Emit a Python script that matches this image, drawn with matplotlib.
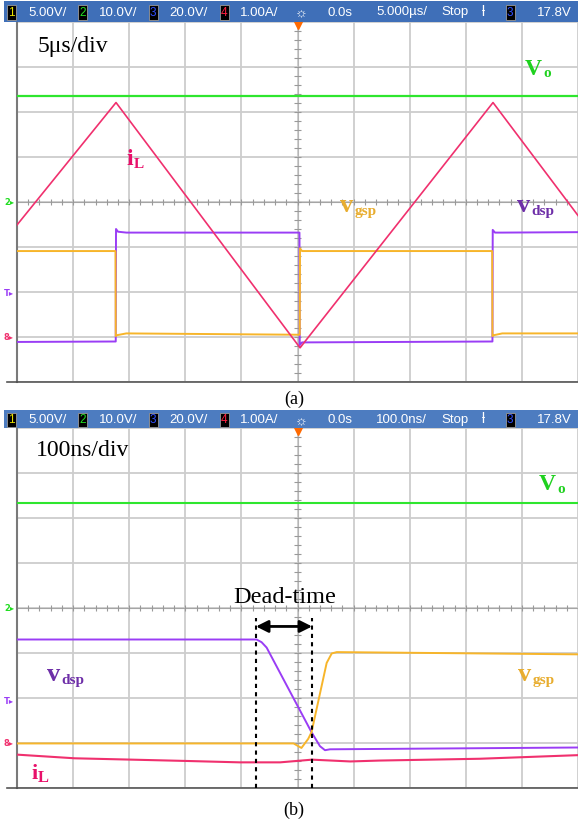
import matplotlib
matplotlib.use('Agg')
import matplotlib.pyplot as plt
from matplotlib.patches import Rectangle
import numpy as np

# ---- scope traces, in screen divisions (x: 0..10 div, y: -4..4 div) ----
# (a) 5us/div
vo_a_t = [0, 10]
vo_a_v = [2.35, 2.35]

il_a_t = [0, 1.765, 5.045, 8.485, 10]
il_a_v = [-0.51, 2.21, -3.24, 2.21, -0.30]

vdsp_a_t = [0, 1.76, 1.765, 1.80, 1.95, 5.035, 5.04, 5.08, 8.475, 8.48, 8.52, 8.65, 10]
vdsp_a_v = [-3.11, -3.10, -0.60, -0.66, -0.68, -0.68, -3.18, -3.12, -3.10, -0.62, -0.68, -0.68, -0.67]

vgsp_a_t = [0, 1.755, 1.76, 1.78, 1.95, 5.04, 5.045, 5.08, 8.47, 8.475, 8.50, 8.65, 10]
vgsp_a_v = [-1.09, -1.09, -2.98, -2.96, -2.92, -2.95, -1.03, -1.09, -1.09, -2.98, -2.96, -2.92, -2.92]

# (b) 100ns/div
vo_b_t = [0, 10]
vo_b_v = [2.34, 2.34]

il_b_t = [0.02, 1.03, 2.05, 3.05, 3.97, 4.69, 5.26, 5.94, 6.47, 8.25, 10]
il_b_v = [-3.26, -3.34, -3.37, -3.40, -3.43, -3.43, -3.37, -3.41, -3.39, -3.35, -3.27]

vdsp_b_t = [0, 4.27, 4.36, 4.45, 5.25, 5.40, 5.49, 5.58, 10]
vdsp_b_v = [-0.70, -0.70, -0.76, -0.88, -2.76, -3.07, -3.16, -3.14, -3.10]

vgsp_b_t = [0, 4.93, 5.07, 5.19, 5.25, 5.52, 5.61, 5.70, 10]
vgsp_b_v = [-3.01, -3.01, -3.11, -2.91, -2.76, -1.22, -1.01, -0.98, -1.03]

dead_start, dead_end = 4.26, 5.26

# ---- colours ----
GREEN = '#2ee62e'
PINK = '#f0306e'
ORANGE = '#f7b52a'
PURPLE = '#9a3df5'
GREEN_T = '#1fd11f'
PINK_T = '#e8106a'
ORANGE_T = '#e8ad2f'
PURPLE_T = '#6e2fa8'

W, H = 578, 825
fig = plt.figure(figsize=(W / 100, H / 100), dpi=100)
serif = 'Liberation Serif'
sans = ['Liberation Sans', 'DejaVu Sans']


def fx(x):
    return x / W


def fy(y):
    return 1 - y / H


def put(x, y, s, **kw):
    kw.setdefault('va', 'baseline')
    return fig.text(fx(x), fy(y), s, **kw)


def status_bar(y0, y1, colour, timebase):
    fig.patches.append(Rectangle((fx(4), fy(y1)), fx(578 - 4), (y1 - y0) / H,
                                 transform=fig.transFigure, fc=colour, ec='none', zorder=0))
    yc = (y0 + y1) / 2 + 4
    boxes = [(8, '1', '#e8e000'), (79, '2', '#22dd22'), (150, '3', '#3050ff'),
             (221, '4', '#ff2040'), (507, '3', '#3050ff')]
    for x, s, c in boxes:
        put(x, yc, s, color=c, fontsize=8.5, family=sans,
            bbox=dict(boxstyle='square,pad=0.12', fc='black', ec='#999999', lw=0.6))
    labels = [(28, '5.00V/'), (99, '10.0V/'), (169, '20.0V/'), (240, '1.00A/'),
              (328, '0.0s'), (376, timebase), (441, 'Stop'), (537, '17.8V')]
    for x, s in labels:
        put(x, yc, s, color='white', fontsize=9.5, family=sans)
    put(295, yc + 1, '\u263c', color='white', fontsize=10, family=sans)
    put(482, yc, '\u019a', color='white', fontsize=10, family=sans)


def scope_axes(top):
    ax = fig.add_axes([fx(17), fy(top + 360), fx(561), 360 / H])
    ax.set_xlim(0, 10)
    ax.set_ylim(-4, 4)
    ax.set_xticks(range(11))
    ax.set_yticks(range(-4, 5))
    ax.grid(True, color='#cdcdcd', lw=1.3)
    ax.tick_params(length=0, labelbottom=False, labelleft=False)
    for side in ('top', 'right'):
        ax.spines[side].set_visible(False)
    ax.spines['left'].set_color('#7a7a7a')
    ax.spines['left'].set_linewidth(1.5)
    ax.spines['bottom'].set_color('#555555')
    ax.spines['bottom'].set_linewidth(1.2)
    ax.set_axisbelow(True)
    # centre graticule lines with minor ticks
    ax.axhline(0, color='#a5a5a5', lw=0.8, zorder=1)
    ax.axvline(5, color='#b5b5b5', lw=0.8, zorder=1)
    minor_x = np.arange(0.2, 10, 0.2)
    minor_y = np.arange(-3.8, 4, 0.2)
    ax.vlines(minor_x, -0.06, 0.06, color='#999999', lw=0.8, zorder=1)
    ax.hlines(minor_y, 4.94, 5.06, color='#999999', lw=0.8, zorder=1)
    ax.plot([5], [3.93], marker='v', color='#ff6a00', ms=6, clip_on=False, zorder=5)
    fig.lines.append(plt.Line2D([fx(7), fx(17)], [fy(top + 360), fy(top + 360)],
                                transform=fig.transFigure, color='#555555', lw=1.2))
    return ax


def side_markers(center, t_y, pink_y):
    put(4, center + 3, '2\u25b8', color='#22dd22', fontsize=6, fontweight='bold')
    put(4, t_y + 4, 'T\u25b8', color=PURPLE, fontsize=6, fontweight='bold')
    put(4, pink_y + 3, '8\u25b8', color=PINK, fontsize=6, fontweight='bold')


def sublabel(x, y, main, sub, colour, size=17, subsize=11, dy=2):
    t = put(x, y, main, color=colour, fontsize=size, fontweight='bold', family=serif)
    bb = t.get_window_extent(renderer=fig.canvas.get_renderer())
    put(bb.x1 + 1, y + dy, sub, color=colour, fontsize=subsize, fontweight='bold', family=serif)


# ---------------- panel (a) ----------------
status_bar(1, 22, '#3f6fb8', '5.000\u00b5s/')
ax = scope_axes(22)
ax.plot(vo_a_t, vo_a_v, color=GREEN, lw=1.6, zorder=3)
ax.plot(vdsp_a_t, vdsp_a_v, color=PURPLE, lw=1.4, zorder=3)
ax.plot(vgsp_a_t, vgsp_a_v, color=ORANGE, lw=1.4, zorder=4)
ax.plot(il_a_t, il_a_v, color=PINK, lw=1.2, zorder=4)
side_markers(202, 292, 337)

put(38, 52, '5\u03bcs/div', fontsize=17, family=serif)
sublabel(525, 75, 'V', 'o', GREEN_T)
sublabel(126, 165, 'i', 'L', PINK_T, size=17, subsize=11, dy=3)
sublabel(340, 212, 'v', 'gsp', ORANGE_T, size=19, subsize=11, dy=3)
sublabel(517, 212, 'v', 'dsp', PURPLE_T, size=19, subsize=11, dy=3)
put(294, 404, '(a)', fontsize=13, family=serif, ha='center')

# ---------------- panel (b) ----------------
status_bar(410, 428, '#4d7cc0', '100.0ns/')
bx = scope_axes(428)
bx.plot(vo_b_t, vo_b_v, color=GREEN, lw=1.5, zorder=3)
bx.plot(il_b_t, il_b_v, color=PINK, lw=1.5, zorder=3)
bx.plot(vdsp_b_t, vdsp_b_v, color=PURPLE, lw=1.4, zorder=4)
bx.plot(vgsp_b_t, vgsp_b_v, color=ORANGE, lw=1.4, zorder=4)
side_markers(608, 700, 743)

for xd in (dead_start, dead_end):
    bx.plot([xd, xd], [-4, -0.23], color='black', lw=1.5, ls=(0, (2, 2)), zorder=5, clip_on=False)
bx.annotate('', xy=(dead_start, -0.41), xytext=(dead_end, -0.41),
            arrowprops=dict(arrowstyle='<|-|>', color='black', lw=2, mutation_scale=18,
                            shrinkA=0, shrinkB=0), zorder=6)
put(285, 603, 'Dead-time', fontsize=17.5, family=serif, ha='center')

put(36, 456, '100ns/div', fontsize=17, family=serif)
sublabel(539, 490, 'V', 'o', GREEN_T, dy=3)
sublabel(47, 681, 'v', 'dsp', PURPLE_T, size=19, subsize=11, dy=3)
sublabel(518, 681, 'v', 'gsp', ORANGE_T, size=19, subsize=11, dy=3)
sublabel(31, 779, 'i', 'L', PINK_T, size=16, subsize=12, dy=3)
put(294, 815, '(b)', fontsize=13, family=serif, ha='center')

fig.savefig('out.png', dpi=100)
